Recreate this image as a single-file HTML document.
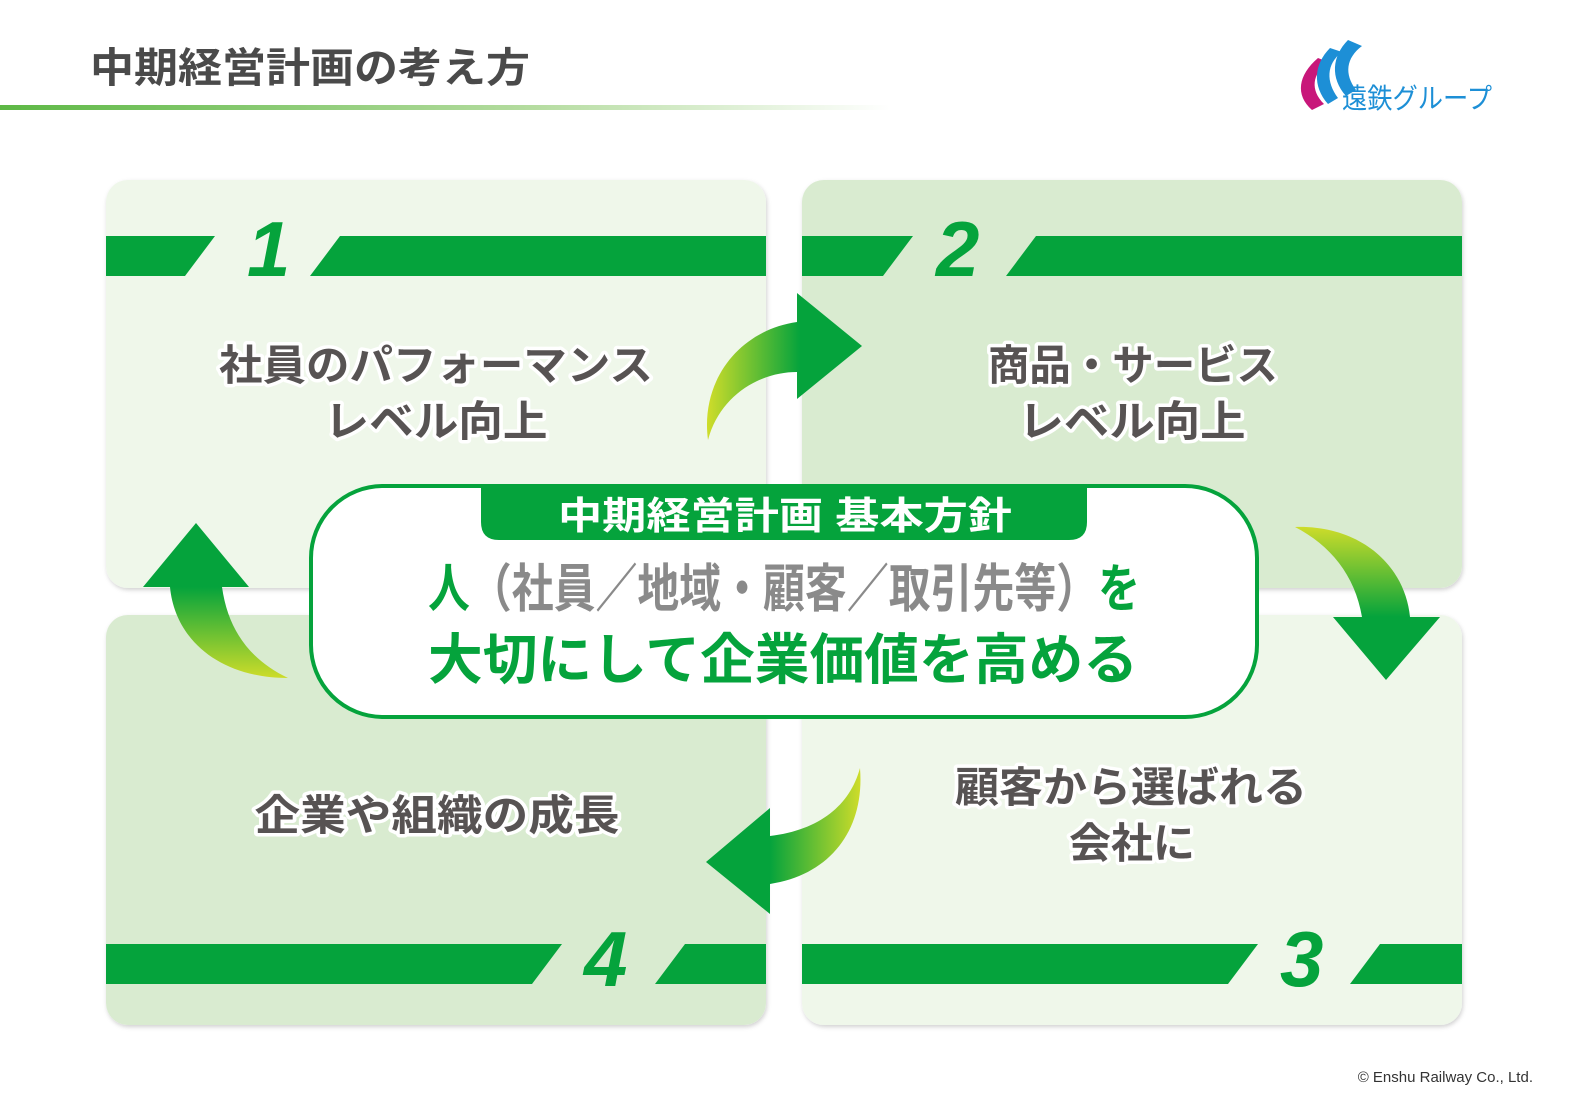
<!DOCTYPE html>
<html><head><meta charset="utf-8"><style>
html,body{margin:0;padding:0;background:#fff;width:1570px;height:1110px;overflow:hidden}
svg{display:block}
text{font-family:"Liberation Sans","Noto Sans CJK JP",sans-serif;font-weight:bold}
.pt{fill:#575353;stroke:#fff;stroke-width:7;paint-order:stroke;stroke-linejoin:round;font-size:42px;text-anchor:middle}
.num{fill:#05a33c;font-size:78px;font-style:italic;font-family:"Liberation Sans",sans-serif}
</style></head><body>
<svg width="1570" height="1110" viewBox="0 0 1570 1110" xmlns="http://www.w3.org/2000/svg">
<defs>
<linearGradient id="ul" x1="0" x2="1"><stop offset="0" stop-color="#5db845"/><stop offset="0.6" stop-color="#b5dca0"/><stop offset="1" stop-color="#fff"/></linearGradient>
<linearGradient id="g1" gradientUnits="userSpaceOnUse" x1="708" y1="0" x2="800" y2="0"><stop offset="0" stop-color="#cddc2a"/><stop offset="1" stop-color="#05a33c"/></linearGradient>
<linearGradient id="g2" gradientUnits="userSpaceOnUse" x1="0" y1="527" x2="0" y2="617"><stop offset="0" stop-color="#cddc2a"/><stop offset="1" stop-color="#05a33c"/></linearGradient>
<linearGradient id="g3" gradientUnits="userSpaceOnUse" x1="860" y1="0" x2="770" y2="0"><stop offset="0" stop-color="#cddc2a"/><stop offset="1" stop-color="#05a33c"/></linearGradient>
<linearGradient id="g4" gradientUnits="userSpaceOnUse" x1="0" y1="678" x2="0" y2="587"><stop offset="0" stop-color="#cddc2a"/><stop offset="1" stop-color="#05a33c"/></linearGradient>
<filter id="sh" x="-5%" y="-5%" width="110%" height="110%"><feDropShadow dx="1" dy="2" stdDeviation="2" flood-color="#000" flood-opacity="0.18"/></filter>
</defs>

<text x="90" y="82" style="font-size:41px;fill:#4a4a4a" textLength="440" lengthAdjust="spacingAndGlyphs">中期経営計画の考え方</text>
<rect x="0" y="105" width="890" height="5" fill="url(#ul)"/>

<!-- logo -->
<path d="M1318,58 C1298,75 1295,95 1312,110 L1324,104 C1310,90 1312,74 1328,62 Z" fill="#c8177a"/>
<path d="M1330,48 C1314,64 1312,86 1328,104 L1338,98 C1326,82 1326,64 1342,52 Z" fill="#1d8fd6"/>
<path d="M1348,40 C1332,56 1330,78 1346,96 L1356,90 C1344,74 1346,58 1362,46 Z" fill="#1d8fd6"/>
<text x="1342" y="108" style="font-size:28px;fill:#1d8fd6;font-weight:normal" textLength="150" lengthAdjust="spacingAndGlyphs">遠鉄グループ</text>

<!-- panels -->
<rect x="106" y="180" width="660" height="408" rx="22" fill="#eff7ea" filter="url(#sh)"/>
<rect x="802" y="180" width="660" height="408" rx="22" fill="#d9ebd0" filter="url(#sh)"/>
<rect x="106" y="615" width="660" height="410" rx="22" fill="#d9ebd0" filter="url(#sh)"/>
<rect x="802" y="615" width="660" height="410" rx="22" fill="#eff7ea" filter="url(#sh)"/>

<!-- stripes -->
<polygon points="106,236 215,236 185,276 106,276" fill="#05a33c"/>
<polygon points="340,236 766,236 766,276 310,276" fill="#05a33c"/>
<text x="247" y="276" class="num">1</text>
<polygon points="802,236 913,236 883,276 802,276" fill="#05a33c"/>
<polygon points="1036,236 1462,236 1462,276 1006,276" fill="#05a33c"/>
<text x="936" y="276" class="num">2</text>
<polygon points="106,944 562,944 532,984 106,984" fill="#05a33c"/>
<polygon points="685,944 766,944 766,984 655,984" fill="#05a33c"/>
<text x="584" y="986" class="num">4</text>
<polygon points="802,944 1258,944 1228,984 802,984" fill="#05a33c"/>
<polygon points="1380,944 1462,944 1462,984 1350,984" fill="#05a33c"/>
<text x="1280" y="986" class="num">3</text>

<!-- panel texts -->
<text x="436" y="380" class="pt" textLength="434" lengthAdjust="spacingAndGlyphs">社員のパフォーマンス</text>
<text x="436" y="436" class="pt" textLength="223" lengthAdjust="spacingAndGlyphs">レベル向上</text>
<text x="1133" y="380" class="pt" textLength="290" lengthAdjust="spacingAndGlyphs">商品・サービス</text>
<text x="1132" y="436" class="pt" textLength="227" lengthAdjust="spacingAndGlyphs">レベル向上</text>
<text x="1131" y="802" class="pt" textLength="352" lengthAdjust="spacingAndGlyphs">顧客から選ばれる</text>
<text x="1132" y="858" class="pt">会社に</text>
<text x="437" y="830" class="pt" textLength="365" lengthAdjust="spacingAndGlyphs">企業や組織の成長</text>

<!-- arrows -->
<path d="M708,440 C700,380 740,330 797,322 L797,293 L862,346 L797,399 L797,372 C760,372 720,395 708,440 Z" fill="url(#g1)"/>
<path d="M1295,527 C1360,525 1405,565 1410,617 L1440,617 L1386,680 L1333,617 L1362,617 C1355,575 1330,545 1295,527 Z" fill="url(#g2)"/>
<path d="M860,768 C865,830 830,875 770,884 L770,914 L706,862 L770,808 L770,836 C820,830 850,805 860,768 Z" fill="url(#g3)"/>
<path d="M288,678 C220,678 175,640 170,587 L143,587 L196,523 L249,587 L222,587 C228,630 250,660 288,678 Z" fill="url(#g4)"/>

<!-- center -->
<rect x="311" y="486" width="946" height="231" rx="72" fill="#fff" stroke="#05a33c" stroke-width="4"/>
<path d="M481,487 L1087,487 L1087,522 Q1087,540 1069,540 L499,540 Q481,540 481,522 Z" fill="#05a33c"/>
<text x="558" y="529" style="font-size:38px;fill:#fff" textLength="454" lengthAdjust="spacingAndGlyphs">中期経営計画 基本方針</text>
<text x="428" y="607" style="font-size:52px;fill:#8a8a8a" textLength="712" lengthAdjust="spacingAndGlyphs"><tspan fill="#05a33c">人</tspan>（社員／地域・顧客／取引先等）<tspan fill="#05a33c">を</tspan></text>
<text x="428" y="679" style="font-size:55px;fill:#05a33c" textLength="710" lengthAdjust="spacingAndGlyphs">大切にして企業価値を高める</text>

<text x="1533" y="1082" style="font-size:15px;fill:#333;font-weight:normal;text-anchor:end">© Enshu Railway Co., Ltd.</text>
</svg>
</body></html>
